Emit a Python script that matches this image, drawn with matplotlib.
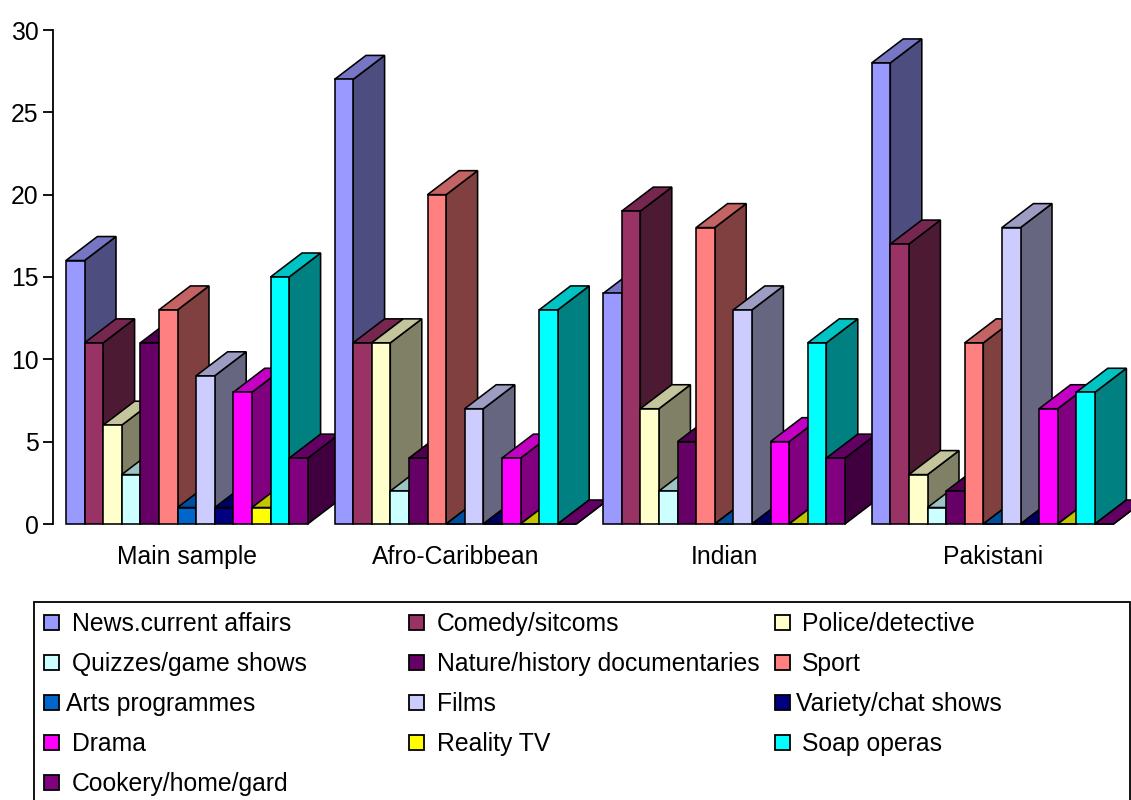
import matplotlib
matplotlib.use("Agg")
import matplotlib.pyplot as plt
from matplotlib.colors import to_rgb
from matplotlib.patches import Polygon, Rectangle

plt.rcParams["font.family"] = ["Liberation Sans", "DejaVu Sans"]

groups = ["Main sample", "Afro-Caribbean", "Indian", "Pakistani"]
genres = ["News.current affairs", "Comedy/sitcoms", "Police/detective",
          "Quizzes/game shows", "Nature/history documentaries", "Sport",
          "Arts programmes", "Films", "Variety/chat shows",
          "Drama", "Reality TV", "Soap operas", "Cookery/home/gard"]
colors = ["#9999FF", "#993366", "#FFFFCC", "#CCFFFF", "#660066", "#FF8080",
          "#0066CC", "#CCCCFF", "#000080", "#FF00FF", "#FFFF00", "#00FFFF",
          "#800080"]

main_sample = [16, 11, 6, 3, 11, 13, 1, 9, 1, 8, 1, 15, 4]
afro_caribbean = [27, 11, 11, 2, 4, 20, 0, 7, 0, 4, 0, 13, 0]
indian = [14, 19, 7, 2, 5, 18, 0, 13, 0, 5, 0, 11, 4]
pakistani = [28, 17, 3, 1, 2, 11, 0, 18, 0, 7, 0, 8, 0]
values = [main_sample, afro_caribbean, indian, pakistani]

BAR_W = 18.6 / 268.6
DEPTH_X = 31.5 / 268.6
DEPTH_Y = 24 / 16.47
LW = 1.15
FONT = 17.8


def shade(color, k):
    return tuple(c * k for c in to_rgb(color))


fig = plt.figure(figsize=(11.31, 8), dpi=100)
ax = fig.add_axes([52.5 / 1131, 276 / 800, 1074.4 / 1131, 494 / 800])
ax.set_xlim(0, 4)
ax.set_ylim(0, 30)

z = 3
for g, row in enumerate(values):
    start = g + (1 - 13 * BAR_W) / 2
    for i, val in enumerate(row):
        x0 = start + i * BAR_W
        x1 = x0 + BAR_W
        side = [(x1, 0), (x1 + DEPTH_X, DEPTH_Y), (x1 + DEPTH_X, val + DEPTH_Y), (x1, val)]
        top = [(x0, val), (x0 + DEPTH_X, val + DEPTH_Y), (x1 + DEPTH_X, val + DEPTH_Y), (x1, val)]
        ax.add_patch(Polygon(side, fc=shade(colors[i], 0.5), ec="black", lw=LW,
                             joinstyle="miter", clip_on=False, zorder=z))
        ax.add_patch(Polygon(top, fc=shade(colors[i], 0.77), ec="black", lw=LW,
                             joinstyle="miter", clip_on=False, zorder=z + 1))
        ax.bar(x0, val, width=BAR_W, align="edge", color=colors[i], edgecolor="black",
               linewidth=LW, clip_on=False, zorder=z + 2)
        z += 3

for s in ["top", "right", "bottom"]:
    ax.spines[s].set_visible(False)
ax.spines["left"].set_linewidth(1.3)
ax.set_yticks(range(0, 31, 5))
ax.tick_params(axis="y", length=7, width=1.3, labelsize=FONT, pad=3)
ax.set_xticks([g + 0.5 for g in range(4)])
ax.set_xticklabels(groups)
ax.tick_params(axis="x", length=0, labelsize=FONT, pad=15)

# legend drawn by hand on a pixel-sized overlay, bottom edge runs off the figure
leg = fig.add_axes([0, 0, 1, 1], zorder=5)
leg.set_xlim(0, 1131)
leg.set_ylim(800, 0)
leg.axis("off")
leg.patch.set_alpha(0)
leg.add_patch(Rectangle((33.5, 601.5), 1096.5, 210, fc="white", ec="black", lw=1.3))

marker_x = [44, 408.5, 775]
text_x = [72, 437, 802]
for i, name in enumerate(genres):
    row, col = divmod(i, 3)
    y = 622.3 + row * 40
    leg.add_patch(Rectangle((marker_x[col], y - 7.5), 15, 15, fc=colors[i], ec="black", lw=1.3))
    tx = text_x[col]
    if name in ("Arts programmes", "Variety/chat shows"):
        tx -= 6
    leg.text(tx, y + 8.5, name, fontsize=FONT, va="baseline", ha="left")

fig.savefig("out.png", dpi=100)
